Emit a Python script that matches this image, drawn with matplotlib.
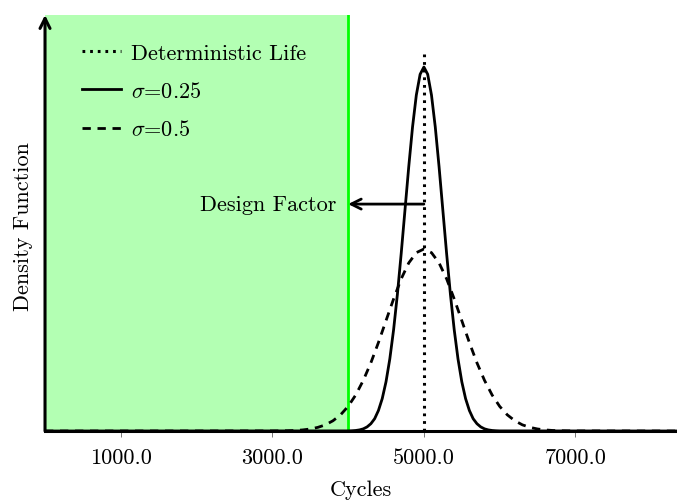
import matplotlib
matplotlib.use("Agg")
import matplotlib.pyplot as plt

plt.rcParams['font.family'] = 'serif'
plt.rcParams['font.serif'] = ['cmr10']
plt.rcParams['mathtext.fontset'] = 'cm'
plt.rcParams['axes.formatter.use_mathtext'] = True

# ---- data (y in arbitrary density units x1e-4) ----
tick_values = [1000, 3000, 5000, 7000]
tick_labels = ["1000.0", "3000.0", "5000.0", "7000.0"]

design_limit = 4000
deterministic_life = 5000
deterministic_height = 16.53
arrow_height = 9.95

solid_x = [0, 4000, 4050, 4100, 4150, 4200, 4250, 4300, 4350, 4400, 4450,
           4500, 4550, 4600, 4650, 4700, 4750, 4800, 4850, 4900, 4950,
           5000, 5050, 5100, 5150, 5200, 5250, 5300, 5350, 5400, 5450,
           5500, 5550, 5600, 5650, 5700, 5750, 5800, 5850, 5900, 5950, 6000, 8400]
solid_y = [0, 0.005, 0.012, 0.024, 0.049, 0.095, 0.18, 0.32, 0.54, 0.90, 1.42,
           2.16, 3.16, 4.44, 5.99, 7.77, 9.68, 11.59, 13.33, 14.73, 15.64,
           15.96, 15.64, 14.73, 13.33, 11.59, 9.68, 7.77, 5.99, 4.44, 3.16,
           2.16, 1.42, 0.90, 0.54, 0.32, 0.18, 0.095, 0.049, 0.024, 0.012, 0.005, 0]

dashed_x = [0, 3000, 3100, 3200, 3300, 3400, 3500, 3600, 3700, 3800, 3900,
            4000, 4100, 4200, 4300, 4400, 4500, 4600, 4700, 4800, 4900,
            5000, 5100, 5200, 5300, 5400, 5500, 5600, 5700, 5800, 5900,
            6000, 6100, 6200, 6300, 6400, 6500, 6600, 6700, 6800, 6900, 7000, 8400]
dashed_y = [0, 0.003, 0.006, 0.012, 0.024, 0.048, 0.089, 0.16, 0.27, 0.45, 0.71,
            1.08, 1.58, 2.22, 2.99, 3.88, 4.84, 5.79, 6.67, 7.37, 7.82,
            7.98, 7.82, 7.37, 6.67, 5.79, 4.84, 3.88, 2.99, 2.22, 1.58,
            1.08, 0.71, 0.45, 0.27, 0.16, 0.089, 0.048, 0.024, 0.012, 0.006, 0.003, 0]

FS = 16

fig = plt.figure(figsize=(6.77, 5.02), dpi=100)
ax = fig.add_axes([0.0665, 0.1394, 0.9335, 0.8287])
ax.set_xlim(0, 8340)
ax.set_ylim(0, 18.24)

ax.axvspan(0, design_limit, color='#b3ffb3', lw=0, zorder=0)
ax.axvline(design_limit, color='#00ff00', lw=2, zorder=1)

ax.plot([deterministic_life, deterministic_life], [0, deterministic_height],
        color='black', lw=2.2, linestyle=(0, (0.9, 1.6)), label='Deterministic Life', zorder=3)
ax.plot(solid_x, solid_y, color='black', lw=2, label=r'$\sigma$=0.25', zorder=3)
ax.plot(dashed_x, dashed_y, color='black', lw=2, linestyle=(0, (3.0, 2.4)),
        label=r'$\sigma$=0.5', zorder=3)

ax.annotate('', xy=(design_limit, arrow_height), xytext=(deterministic_life, arrow_height),
            arrowprops=dict(arrowstyle='->', lw=2, color='black', shrinkA=0, shrinkB=0,
                            mutation_scale=18), zorder=4)
ax.text(3850, arrow_height, 'Design Factor', ha='right', va='center', fontsize=FS, zorder=4)

for s in ['top', 'right', 'left']:
    ax.spines[s].set_visible(False)
ax.spines['bottom'].set_linewidth(2.2)
ax.spines['bottom'].set_zorder(5)
ax.annotate('', xy=(0, 1.0), xytext=(0, 0), xycoords='axes fraction',
            arrowprops=dict(arrowstyle='->', lw=2.2, color='black', shrinkA=0, shrinkB=0,
                            mutation_scale=18), annotation_clip=False, zorder=6)

ax.set_yticks([])
ax.set_xticks(tick_values)
ax.set_xticklabels(tick_labels, fontsize=FS)
ax.tick_params(axis='x', direction='out', length=4, width=0.7, color='#777777', pad=8)

ax.set_xlabel('Cycles', fontsize=FS)
ax.xaxis.set_label_coords(0.5, -0.139)
ax.xaxis.label.set_va('center')
ax.set_ylabel('Density Function', fontsize=FS)
ax.yaxis.set_label_coords(-0.034, 0.493)
ax.yaxis.label.set_va('center')

leg = ax.legend(loc='upper left', bbox_to_anchor=(0.058, 0.932), frameon=False,
                fontsize=FS, handlelength=1.75, handletextpad=0.45, labelspacing=0.82,
                borderpad=0, borderaxespad=0)

fig.savefig('out.png', dpi=100)
